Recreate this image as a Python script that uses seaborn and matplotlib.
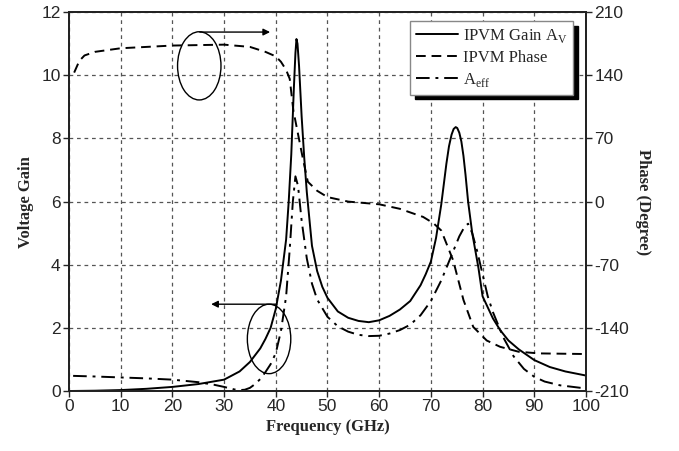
import pandas as pd
import seaborn as sns
import matplotlib.pyplot as plt
from matplotlib.patches import Ellipse

# IPVM voltage gain A_V (left axis)
gain_freq = [0, 5, 10, 15, 20, 25, 30, 33, 35, 37, 38, 39, 40, 41, 42, 42.5, 43, 43.5, 43.8,
             44, 44.2, 44.5, 45, 45.5, 46, 47, 48, 49, 50, 52, 54, 56, 58, 60, 62, 64, 66,
             68, 69, 70, 71, 72, 72.5, 73, 73.5, 74, 74.4, 74.8, 75.1, 75.5, 75.9, 76.3,
             76.7, 77.2, 78, 79.2, 80, 82, 83.4, 85, 87, 90, 93, 96, 100]
gain_val = [0.0, 0.01, 0.03, 0.07, 0.13, 0.22, 0.36, 0.62, 0.92, 1.35, 1.65, 2.0, 2.6,
            3.5, 4.8, 6.0, 7.5, 9.6, 10.7, 11.15, 11.0, 10.3, 8.7, 7.4, 6.3, 4.6, 3.8,
            3.3, 2.95, 2.52, 2.32, 2.22, 2.18, 2.24, 2.38, 2.58, 2.85, 3.35, 3.7, 4.1,
            4.85, 5.9, 6.55, 7.2, 7.75, 8.12, 8.3, 8.36, 8.33, 8.18, 7.9, 7.45, 6.85, 6.0,
            5.0, 3.9, 3.0, 2.3, 1.93, 1.6, 1.32, 0.98, 0.76, 0.62, 0.49]

# A_eff (left axis)
aeff_freq = [0.8, 5, 10, 15, 20, 25, 28, 30, 32, 33, 34, 35, 36, 37, 38, 39, 40, 41, 42,
             42.7, 43.3, 43.8, 44.3, 45, 46, 47, 48, 50, 52, 54, 56, 58, 60, 62, 64, 66,
             68, 70, 72, 74, 75.5, 76.5, 77.2, 78, 79, 80, 81, 82, 83, 84, 86, 88, 90,
             92, 95, 100]
aeff_val = [0.48, 0.46, 0.43, 0.40, 0.36, 0.28, 0.2, 0.13, 0.05, 0.03, 0.04, 0.1, 0.22,
            0.38, 0.6, 0.85, 1.2, 1.9, 3.0, 4.5, 6.0, 6.8, 6.5, 5.4, 4.2, 3.4, 2.9, 2.35,
            2.05, 1.88, 1.78, 1.74, 1.75, 1.82, 1.93, 2.1, 2.4, 2.85, 3.5, 4.3, 4.9, 5.2,
            5.3, 5.0, 4.4, 3.7, 3.0, 2.5, 2.1, 1.7, 1.1, 0.7, 0.45, 0.3, 0.18, 0.08]

# IPVM phase in degrees (right axis)
phase_freq = [1, 2, 3, 5, 10, 20, 30, 35, 38, 40, 41, 42, 42.7, 43.4, 44.4, 45.3, 46.2,
              48, 50, 54, 60, 64, 68.5, 70.5, 72, 74.3, 76.3, 78.2, 80.8, 83.4, 87, 91, 100]
phase_val = [143, 156, 162, 166, 170, 173, 174, 171.5, 166, 161, 155, 146, 136, 101, 72,
             46, 22, 12, 5, 0, -3, -8, -17, -24, -32, -65, -109, -139, -154, -161,
             -166.5, -168.3, -169]

x_ticks = list(range(0, 101, 10))
gain_ticks = list(range(0, 13, 2))
phase_ticks = [-210, -140, -70, 0, 70, 140, 210]

sns.set_style("ticks")
plt.rcParams['font.family'] = ['Liberation Sans', 'DejaVu Sans']
plt.rcParams['axes.unicode_minus'] = False
plt.rcParams['mathtext.fontset'] = 'custom'
plt.rcParams['mathtext.rm'] = 'Liberation Serif'
serif = ['Liberation Serif', 'DejaVu Serif']

fig = plt.figure(figsize=(6.79, 4.51), dpi=100)
ax = fig.add_axes([0.1016, 0.133, 0.7614, 0.840])
ax2 = ax.twinx()

lw = 1.4
sns.lineplot(x=gain_freq, y=gain_val, ax=ax, color="black", linewidth=lw,
             label="IPVM Gain A$_{\\rm V}$", legend=False)
sns.lineplot(x=aeff_freq, y=aeff_val, ax=ax, color="black", linewidth=lw,
             linestyle=(0, (7, 3, 1.5, 3)), label="A$_{\\rm eff}$", legend=False)
sns.lineplot(x=phase_freq, y=phase_val, ax=ax2, color="black", linewidth=lw,
             linestyle=(0, (5, 3)), label="IPVM Phase", legend=False)

ax.set_xlim(0, 100)
ax.set_ylim(0, 12)
ax2.set_ylim(-210, 210)
ax.set_xticks(x_ticks)
ax.set_yticks(gain_ticks)
ax2.set_yticks(phase_ticks)

ax.grid(True, linestyle=(0, (3, 3)), color="#555555", linewidth=0.9)
for a in (ax, ax2):
    for s in a.spines.values():
        s.set_color("#222222")
        s.set_linewidth(1.3)
    a.tick_params(labelsize=12.5, length=4, width=1, direction="out", pad=2)

ax.set_xlabel("Frequency (GHz)", family=serif, fontweight="bold", fontsize=12, labelpad=3)
ax.set_ylabel("Voltage Gain", family=serif, fontweight="bold", fontsize=12, labelpad=5)
ax2.set_ylabel("Phase (Degree)", family=serif, fontweight="bold", fontsize=12,
               rotation=-90, labelpad=16)

# ellipse markers with arrows pointing to the related axis
ax.add_patch(Ellipse((25.2, 10.3), 8.4, 2.16, fill=False, edgecolor="black", lw=1.0))
ax.annotate("", xy=(38.9, 11.37), xytext=(25.3, 11.37),
            arrowprops=dict(arrowstyle="-|>", color="black", lw=1.0, shrinkA=0, shrinkB=0))
ax.add_patch(Ellipse((38.7, 1.65), 8.4, 2.2, fill=False, edgecolor="black", lw=1.0))
ax.annotate("", xy=(27.5, 2.75), xytext=(40.2, 2.75),
            arrowprops=dict(arrowstyle="-|>", color="black", lw=1.0, shrinkA=0, shrinkB=0))

h1, l1 = ax.get_legend_handles_labels()
h2, l2 = ax2.get_legend_handles_labels()
handles = [h1[0], h2[0], h1[1]]
labels = [l1[0], l2[0], l1[1]]
leg = ax2.legend(handles, labels, loc="upper right", bbox_to_anchor=(0.975, 0.977),
                 borderaxespad=0, fancybox=False, framealpha=1, edgecolor="#888888",
                 shadow={"ox": 3.5, "oy": -3.5, "color": "black", "alpha": 1},
                 prop={"family": serif, "size": 12}, handlelength=2.5,
                 handletextpad=0.3, labelspacing=0.3, borderpad=0.35)
leg.get_frame().set_linewidth(1.0)

fig.savefig("out.png", dpi=100)
